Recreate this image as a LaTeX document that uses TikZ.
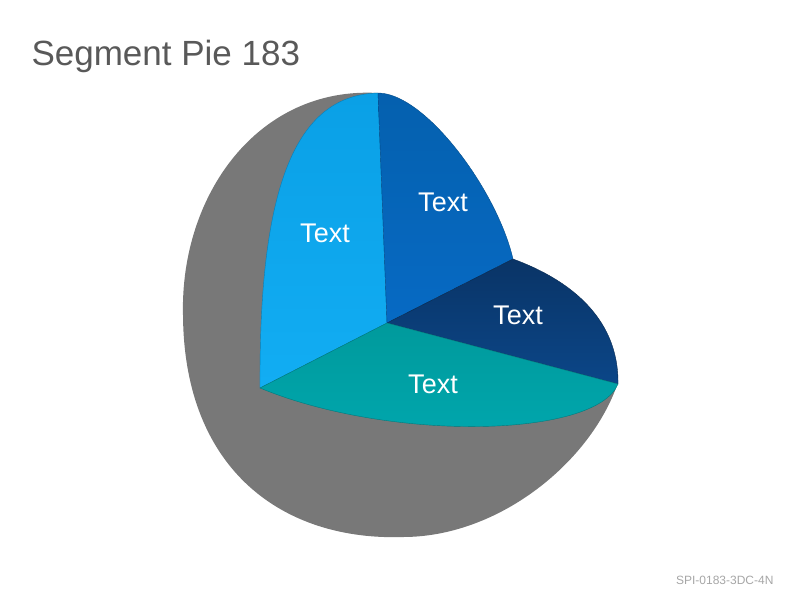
\documentclass[tikz,border=0pt]{standalone}
\usepackage{fontspec}
\setmainfont{Liberation Sans}
\definecolor{titlegray}{HTML}{595959}
\definecolor{codegray}{HTML}{A6A6A6}
\definecolor{spheregray}{HTML}{787878}
\definecolor{lblue}{HTML}{12ADF3}
\definecolor{lbluetop}{HTML}{0AA0E6}
\definecolor{dblue}{HTML}{066AC4}
\definecolor{dbluetop}{HTML}{0560AE}
\definecolor{navy}{HTML}{0B4688}
\definecolor{navytop}{HTML}{0A3466}
\definecolor{teal}{HTML}{00A7AE}
\definecolor{tealtop}{HTML}{009A9C}

\begin{document}
\begin{tikzpicture}[x=1pt,y=-1pt]
 \useasboundingbox (0,0) rectangle (800,600);
 \node[anchor=base west,text=titlegray,font=\fontsize{35}{42}\selectfont] (title) at (28,65) {Segment Pie 183};
 \node[anchor=base east,text=codegray,font=\fontsize{12}{14}\selectfont] (code) at (777,584) {SPI-0183-3DC-4N};
 \coordinate (ctr) at (387,323);
 \coordinate (ltop) at (378,93);
 \coordinate (lbot) at (260,388);
 \coordinate (dcorner) at (513,259);
 \coordinate (ncorner) at (618,384);
 % sphere
 \fill[spheregray] (ltop) .. controls (258,86) and (180,195) .. (183,315)
   .. controls (184,472) and (285,541) .. (403,537)
   .. controls (497,537) and (587,465) .. (616,388) -- (ctr) -- cycle;
 \tikzstyle{seg} = [line width=0.4pt]
 \draw[seg,draw=lbluetop!80!black,top color=lbluetop,bottom color=lblue] (ctr) -- (ltop) .. controls (290,95) and (259,200) .. (lbot) -- cycle;
 \draw[seg,draw=dbluetop!80!black,top color=dbluetop,bottom color=dblue] (ctr) -- (ltop) .. controls (425,93) and (497,190) .. (dcorner) -- cycle;
 \draw[seg,draw=navytop!80!black,top color=navytop,bottom color=navy] (ctr) -- (dcorner) .. controls (565,278) and (619,315) .. (ncorner) -- cycle;
 \draw[seg,draw=tealtop!80!black,top color=tealtop,bottom color=teal] (ctr) -- (ncorner) .. controls (596,438) and (390,442) .. (lbot) -- cycle;
 \tikzstyle{every node} = [text=white,font=\fontsize{27}{32}\selectfont]
 \node (t1) at (325,233) {Text};
 \node (t2) at (443,202) {Text};
 \node (t3) at (518,315) {Text};
 \node (t4) at (433,384) {Text};
\end{tikzpicture}
\end{document}
